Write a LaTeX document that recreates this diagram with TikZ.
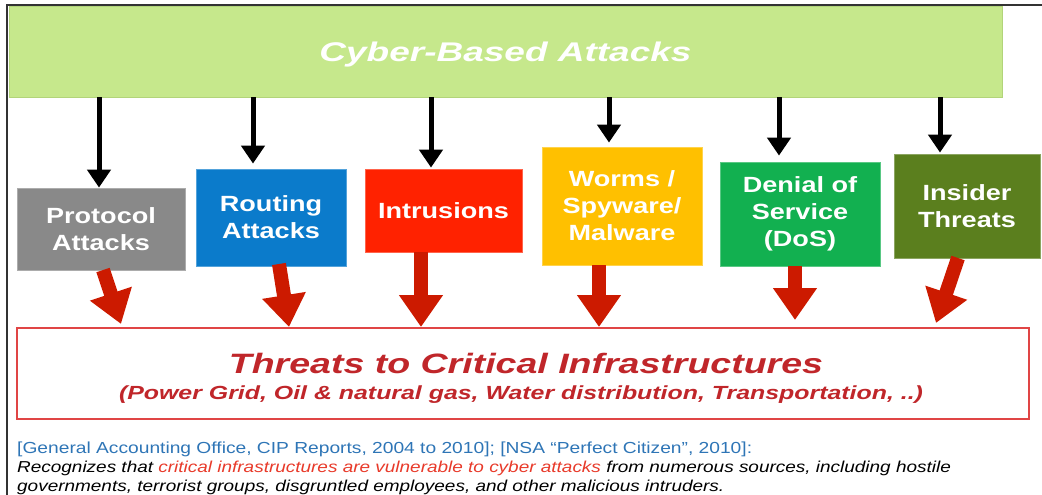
\documentclass[tikz,border=0pt]{standalone}
\usepackage{fontspec}
\setmainfont{Liberation Sans}
\newfontfamily\boxf{Liberation Sans}[FakeStretch=1.23]
\newfontfamily\titf{Liberation Sans}[FakeStretch=1.37]
\newfontfamily\thrf{Liberation Sans}[FakeStretch=1.34]
\newfontfamily\subf{Liberation Sans}[FakeStretch=1.31]
\newfontfamily\notef{Liberation Sans}[FakeStretch=1.2]
\usetikzlibrary{arrows.meta,calc}
\definecolor{topgreen}{HTML}{C6E88C}
\definecolor{topgreenb}{HTML}{B2D47A}
\definecolor{cgray}{HTML}{898989}
\definecolor{cblue}{HTML}{0B7BCB}
\definecolor{cred}{HTML}{FF2200}
\definecolor{cyellow}{HTML}{FFC000}
\definecolor{cgreen}{HTML}{12B050}
\definecolor{colive}{HTML}{5B7F1E}
\definecolor{arrred}{HTML}{CC1A00}
\definecolor{bigborder}{HTML}{E04545}
\definecolor{thrcol}{HTML}{C0262A}
\definecolor{noteblue}{HTML}{2E75B6}
\definecolor{notered}{HTML}{E83A2A}
\begin{document}
\begin{tikzpicture}[x=1pt,y=-1pt,
  catbox/.style={draw=#1!70!white, line width=0.8pt, fill=#1, text=white, align=center,
    inner sep=0pt, font=\boxf\bfseries\fontsize{22}{27}\selectfont},
  blk/.style={draw=black, line width=5pt, -{Triangle[width=23pt,length=18pt]}},
  redarr/.style={draw=arrred, line width=14pt, -{Triangle[width=42pt,length=32pt]}},
  notetext/.style={anchor=base west, inner sep=0pt, font=\notef\fontsize{16}{19}\selectfont},
  noteital/.style={notetext, font=\notef\itshape\fontsize{15.8}{19}\selectfont}
]
\useasboundingbox (0,0) rectangle (1042,495);
% frame
\draw[line width=1.2pt, black!80] (7,495) -- (7,5) -- (1042,5);
% top box
\node[draw=topgreenb, line width=0.8pt, fill=topgreen, minimum width=993pt, minimum height=91pt,
  inner sep=0pt, text depth=0pt, text=white, font=\titf\bfseries\itshape\fontsize{27}{30}\selectfont]
  (cyber) at (505.5,51.5) {Cyber-Based Attacks};
% category boxes
\node[catbox=cgray,   minimum width=168pt, minimum height=82pt]  (prot) at (101,229)   {Protocol\\Attacks};
\node[catbox=cblue,   minimum width=150pt, minimum height=97pt]  (rout) at (271,217.5) {Routing\\Attacks};
\node[catbox=cred,    minimum width=157pt, minimum height=83pt]  (intr) at (443.5,210.5) {Intrusions};
\node[catbox=cyellow, minimum width=160pt, minimum height=118pt] (worm) at (622,206)   {Worms /\\Spyware/\\Malware};
\node[catbox=cgreen,  minimum width=160pt, minimum height=104pt] (dos)  at (800,214)   {Denial of\\Service\\(DoS)};
\node[catbox=colive,  minimum width=146pt, minimum height=104pt] (ins)  at (967,206)   {Insider\\Threats};
% big box
\node[draw=bigborder, line width=1.5pt, fill=white, minimum width=1012pt, minimum height=91pt, inner sep=0pt]
  (big) at (523,373.5) {};
\node[text=thrcol, inner sep=0pt, font=\thrf\bfseries\itshape\fontsize{28}{30}\selectfont]
  (thr) at ($(big.center)+(3,-10.5)$) {Threats to Critical Infrastructures};
\node[text=thrcol, inner sep=0pt, font=\subf\bfseries\itshape\fontsize{19}{22}\selectfont]
  (sub) at ($(big.center)+(-2,21)$) {(Power Grid, Oil \& natural gas, Water distribution, Transportation, ..)};
% black arrows
\coordinate (b1) at (99,0);
\coordinate (b2) at (253,0);
\coordinate (b3) at (431,0);
\coordinate (b4) at (609,0);
\coordinate (b5) at (779,0);
\coordinate (b6) at (940,0);
\draw[blk] (cyber.south -| b1) -- (prot.north -| b1);
\draw[blk] (cyber.south -| b2) -- ($(rout.north -| b2)+(0,-5)$);
\draw[blk] (cyber.south -| b3) -- ($(intr.north -| b3)+(0,-1)$);
\draw[blk] (cyber.south -| b4) -- ($(worm.north -| b4)+(0,-4)$);
\draw[blk] (cyber.south -| b5) -- ($(dos.north -| b5)+(0,-6)$);
\draw[blk] (cyber.south -| b6) -- ($(ins.north -| b6)+(0,-1)$);
% red arrows
\coordinate (r1s) at (103,270);  \coordinate (r1e) at (121,324);
\coordinate (r2s) at (279,264);  \coordinate (r2e) at (289,327);
\coordinate (r3s) at (421,252);  \coordinate (r3e) at (421,327);
\coordinate (r4s) at (599,265);  \coordinate (r4e) at (599,327);
\coordinate (r5s) at (795,266);  \coordinate (r5e) at (795,320);
\coordinate (r6s) at (958,258);  \coordinate (r6e) at (936,323);
\draw[redarr] (r1s) -- (r1e);
\draw[redarr] (r2s) -- (r2e);
\draw[redarr] (r3s) -- (r3e);
\draw[redarr] (r4s) -- (r4e);
\draw[redarr] (r5s) -- (r5e);
\draw[redarr] (r6s) -- (r6e);
% note
\node[notetext, text=noteblue] (n1) at (17,453) {[General Accounting Office, CIP Reports, 2004 to 2010]; [NSA “Perfect Citizen”, 2010]:};
\node[noteital] (n2) at (17,472.5)
  {Recognizes that \textcolor{notered}{critical infrastructures are vulnerable to cyber attacks} from numerous sources, including hostile};
\node[noteital] (n3) at (17,491)
  {governments, terrorist groups, disgruntled employees, and other malicious intruders.};
\end{tikzpicture}
\end{document}
